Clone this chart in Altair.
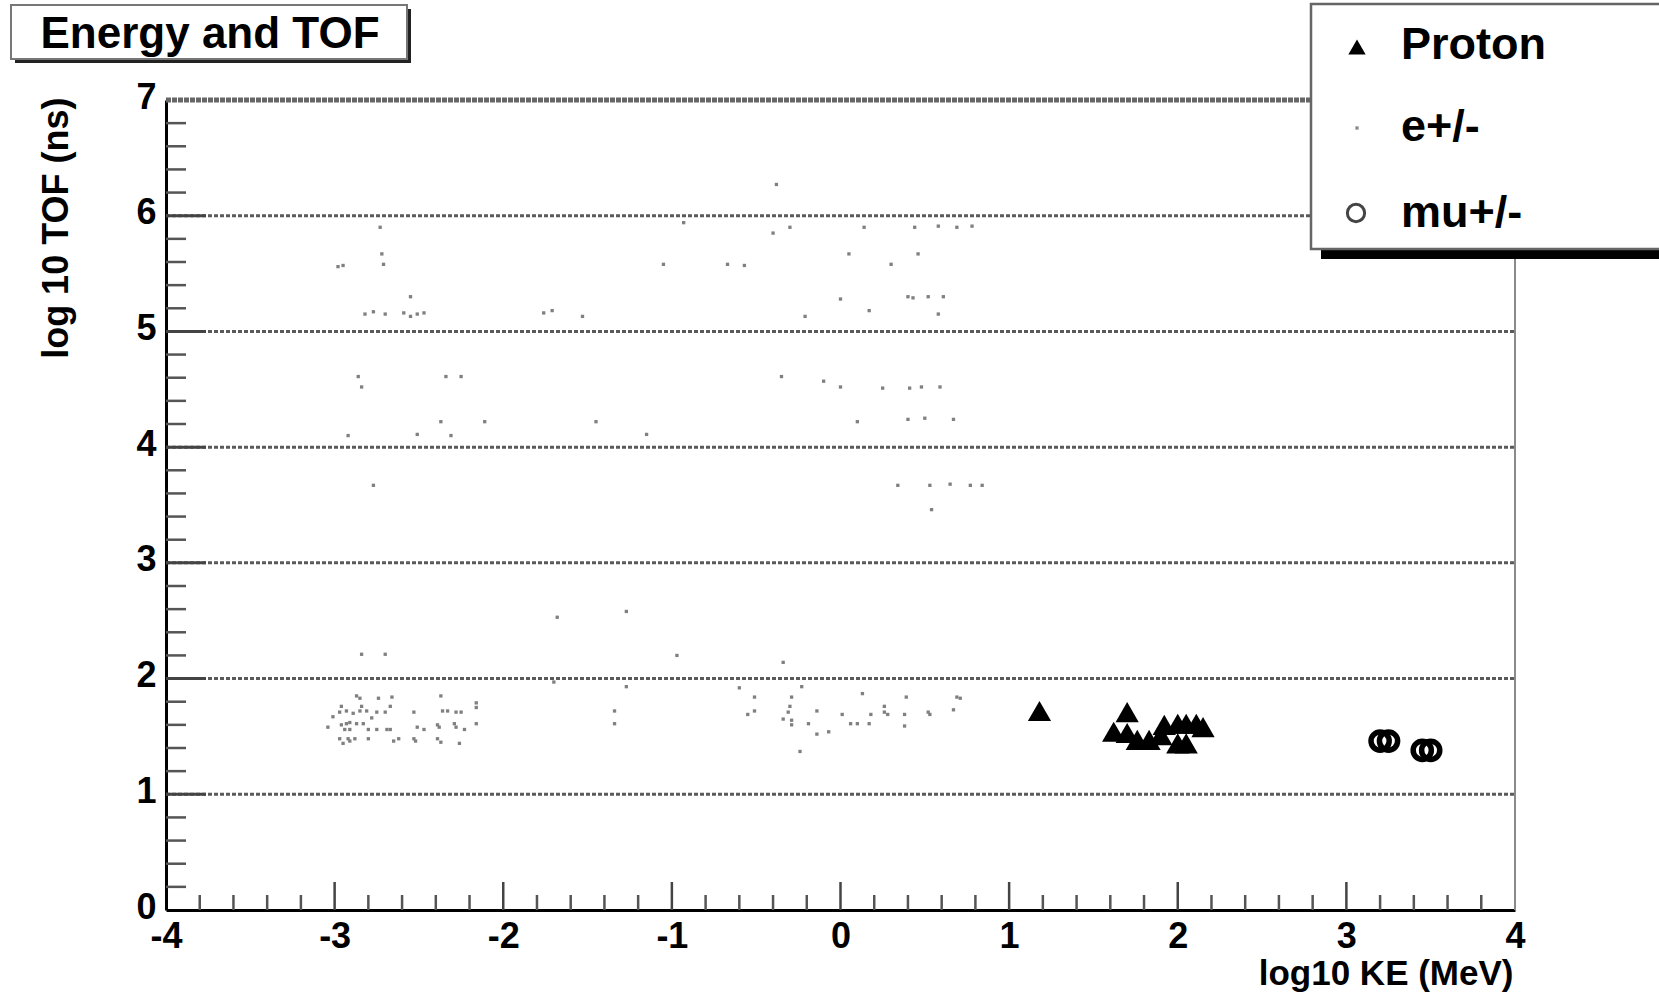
import altair as alt
import pandas as pd

FONT = "Liberation Sans"
W, H = 1349, 810

# e+/- hits: log10 kinetic energy (MeV), log10 time of flight (ns)
e_ke = [
    -2.87, -2.85, -2.74, -2.66, -2.37, -2.16, -2.16, -2.96, -2.67, -2.84,
    -2.97, -2.93, -2.89, -2.85, -2.81, -2.75, -2.70, -2.53, -2.36, -2.33,
    -2.28, -2.25, -3.01, -2.78, -3.04, -2.96, -2.93, -2.91, -2.87, -2.83,
    -2.94, -2.91, -2.80, -2.75, -2.69, -2.67, -2.51, -2.47, -2.39, -2.38,
    -2.29, -2.28, -2.23, -2.16, -2.97, -2.92, -2.91, -2.88, -2.80, -2.65,
    -2.62, -2.53, -2.52, -2.39, -2.37, -2.26, -2.95, -2.84, -2.70,
    -1.34, -1.34, -1.27, -1.68, -1.27, -0.97, -1.70,
    -0.34, -0.60, -0.23, -0.51, -0.29, -0.51, -0.55, -0.30, -0.31, -0.14,
    -0.34, -0.29, -0.29, -0.19, -0.14, -0.07, -0.24, 0.13, 0.39, 0.69,
    0.71, 0.26, 0.26, 0.52, 0.67, 0.01, 0.18, 0.28, 0.38, 0.53,
    0.06, 0.10, 0.17, 0.38,
    -2.73, -2.72, -2.98, -2.95, -2.71, -1.05, -2.55, -2.82, -2.77, -2.70,
    -2.59, -2.55, -2.51, -2.47, -1.76, -1.71, -1.53, -2.86, -2.84, -2.34,
    -2.25, -2.37, -2.11, -1.45, -2.92, -2.51, -2.31, -1.15, -2.77,
    -0.38, -0.93, -0.30, 0.14, 0.44, 0.58, 0.69, 0.78, -0.40, 0.05,
    0.46, -0.67, -0.57, 0.30, 0.00, 0.40, 0.43, 0.52, 0.61, -0.21,
    0.17, 0.58, -0.35, -0.10, 0.00, 0.25, 0.41, 0.48, 0.59, 0.10,
    0.40, 0.50, 0.67, 0.34, 0.53, 0.65, 0.77, 0.84, 0.54,
]
e_tof = [
    1.85, 1.83, 1.83, 1.84, 1.85, 1.79, 1.75, 1.76, 1.76, 1.76,
    1.71, 1.72, 1.70, 1.72, 1.72, 1.71, 1.71, 1.71, 1.72, 1.72,
    1.71, 1.71, 1.67, 1.66, 1.58, 1.60, 1.61, 1.62, 1.61, 1.61,
    1.56, 1.56, 1.56, 1.56, 1.56, 1.56, 1.58, 1.56, 1.60, 1.58,
    1.61, 1.58, 1.56, 1.61, 1.48, 1.48, 1.46, 1.48, 1.48, 1.46,
    1.48, 1.48, 1.46, 1.48, 1.45, 1.44, 1.44, 2.21, 2.21,
    1.72, 1.61, 1.93, 2.53, 2.58, 2.20, 1.97,
    2.14, 1.92, 1.93, 1.84, 1.84, 1.72, 1.69, 1.76, 1.71, 1.72,
    1.65, 1.64, 1.60, 1.61, 1.52, 1.54, 1.37, 1.87, 1.84, 1.84,
    1.83, 1.76, 1.71, 1.71, 1.73, 1.69, 1.69, 1.69, 1.69, 1.69,
    1.61, 1.61, 1.61, 1.59,
    5.90, 5.67, 5.56, 5.57, 5.58, 5.58, 5.30, 5.15, 5.17, 5.15,
    5.16, 5.13, 5.15, 5.16, 5.16, 5.18, 5.13, 4.61, 4.52, 4.61,
    4.61, 4.22, 4.22, 4.22, 4.10, 4.11, 4.10, 4.11, 3.67,
    6.27, 5.94, 5.90, 5.90, 5.90, 5.91, 5.90, 5.91, 5.85, 5.67,
    5.67, 5.58, 5.57, 5.58, 5.28, 5.30, 5.29, 5.30, 5.30, 5.13,
    5.18, 5.15, 4.61, 4.57, 4.52, 4.51, 4.51, 4.52, 4.52, 4.22,
    4.24, 4.25, 4.24, 3.67, 3.67, 3.68, 3.67, 3.67, 3.46,
]

# protons
p_ke = [1.18, 1.70, 1.62, 1.70, 1.76, 1.83, 1.90, 1.92, 2.00, 2.05, 2.11, 2.15, 2.00, 2.05]
p_tof = [1.72, 1.71, 1.54, 1.53, 1.47, 1.47, 1.51, 1.60, 1.61, 1.61, 1.61, 1.58, 1.44, 1.44]

# mu+/-
mu_ke = [3.20, 3.25, 3.45, 3.50]
mu_tof = [1.46, 1.46, 1.38, 1.38]

# axis ticks
x_major = [-4, -3, -2, -1, 0, 1, 2, 3, 4]
y_major = [0, 1, 2, 3, 4, 5, 6, 7]
x_minor = [round(a + 0.2 * k, 1) for a in range(-4, 4) for k in (1, 2, 3, 4)]
y_minor = [round(a + 0.2 * k, 1) for a in range(0, 7) for k in (1, 2, 3, 4)]
grid_levels = [1, 2, 3, 4, 5, 6]

xs = alt.Scale(domain=[-4, 4], nice=False, zero=False)
ys = alt.Scale(domain=[0, 7], nice=False, zero=False)

x_axis = alt.Axis(
    values=x_major, labelExpr="'' + datum.value", ticks=False, tickSize=0, grid=False,
    domain=True, domainColor="black", domainWidth=3,
    labelFont=FONT, labelFontSize=36, labelFontWeight="bold", labelColor="black",
    labelPadding=9, labelFlush=False, labelOverlap=False, labelBound=False,
    title="log10 KE (MeV)", titleFont=FONT, titleFontSize=35, titleFontWeight="bold",
    titleColor="black", titleAlign="right", titleBaseline="alphabetic",
    titleX=W - 2, titleY=74,
)
y_axis = alt.Axis(
    values=y_major, ticks=False, tickSize=0, grid=False,
    domain=True, domainColor="black", domainWidth=3,
    labelFont=FONT, labelFontSize=36, labelFontWeight="bold", labelColor="black",
    labelPadding=10, labelOffset=-3, labelFlush=False, labelOverlap=False, labelBound=False,
    title="log 10 TOF (ns)", titleFont=FONT, titleFontSize=36, titleFontWeight="bold",
    titleColor="black", titleAngle=270, titleAlign="right", titleBaseline="alphabetic",
    titleX=-99, titleY=-3,
)


def X(field):
    return alt.X(field, type="quantitative", scale=xs, axis=x_axis)


def Y(field):
    return alt.Y(field, type="quantitative", scale=ys, axis=y_axis)


def vals(v):
    return pd.DataFrame({"v": v})


# dashed horizontal grid and the frame
grid = alt.Chart(vals(grid_levels)).mark_rule(
    color="#5a5a5a", strokeWidth=3, strokeDash=[4, 2]
).encode(y=Y("v"), x=alt.value(0), x2=alt.value(W))
top = alt.Chart(vals([7])).mark_rule(
    color="#666", strokeWidth=5, strokeDash=[5, 1]
).encode(y=Y("v"), x=alt.value(0), x2=alt.value(W))
right = alt.Chart(vals([4])).mark_rule(color="#8a8a8a", strokeWidth=2).encode(
    x=X("v"), y=alt.value(0), y2=alt.value(H)
)

# inward ticks
y_minor_t = alt.Chart(vals(y_minor)).mark_rule(color="#555", strokeWidth=2.5).encode(
    y=Y("v"), x=alt.value(0), x2=alt.value(20)
)
y_major_t = alt.Chart(vals(grid_levels)).mark_rule(color="#444", strokeWidth=3).encode(
    y=Y("v"), x=alt.value(0), x2=alt.value(40)
)
x_minor_t = alt.Chart(vals(x_minor)).mark_rule(color="#555", strokeWidth=2.5).encode(
    x=X("v"), y=alt.value(H), y2=alt.value(H - 15)
)
x_major_t = alt.Chart(vals(x_major[1:-1])).mark_rule(color="#444", strokeWidth=2.5).encode(
    x=X("v"), y=alt.value(H), y2=alt.value(H - 28)
)

# particles
electrons = alt.Chart(pd.DataFrame({"ke": e_ke, "tof": e_tof})).mark_square(
    size=11, color="#808080", opacity=1
).encode(x=X("ke"), y=Y("tof"))
protons = alt.Chart(pd.DataFrame({"ke": p_ke, "tof": p_tof})).mark_point(
    shape="triangle-up", filled=True, color="black", size=540, opacity=1
).encode(x=X("ke"), y=Y("tof"))
muons = alt.Chart(pd.DataFrame({"ke": mu_ke, "tof": mu_tof})).mark_point(
    shape="circle", filled=False, color="black", size=330, strokeWidth=5.5, opacity=1
).encode(x=X("ke"), y=Y("tof"))

one = pd.DataFrame({"k": [0]})

# title pave
title_shadow = alt.Chart(one).mark_rect(color="#222").encode(
    x=alt.value(-151), x2=alt.value(245), y=alt.value(-91), y2=alt.value(-37)
)
title_box = alt.Chart(one).mark_rect(fill="white", stroke="#777", strokeWidth=2).encode(
    x=alt.value(-155), x2=alt.value(241), y=alt.value(-95), y2=alt.value(-41)
)
title_text = alt.Chart(one).mark_text(
    text="Energy and TOF", font=FONT, fontSize=44, fontWeight="bold", color="black",
    align="center", baseline="alphabetic",
).encode(x=alt.value(44), y=alt.value(-52))

# legend pave
leg_shadow = alt.Chart(one).mark_rect(color="black").encode(
    x=alt.value(1155), x2=alt.value(1620), y=alt.value(-86), y2=alt.value(159)
)
leg_box = alt.Chart(one).mark_rect(fill="white", stroke="#666", strokeWidth=2.5).encode(
    x=alt.value(1145), x2=alt.value(1610), y=alt.value(-96), y2=alt.value(149)
)
leg_p = alt.Chart(one).mark_point(
    shape="triangle-up", filled=True, color="black", size=300, opacity=1
).encode(x=alt.value(1191), y=alt.value(-53))
leg_e = alt.Chart(one).mark_square(size=11, color="#8c8c8c", opacity=1).encode(
    x=alt.value(1191), y=alt.value(28)
)
leg_mu = alt.Chart(one).mark_point(
    shape="circle", filled=False, color="#444", size=300, strokeWidth=3, opacity=1
).encode(x=alt.value(1190), y=alt.value(113))


def leg_text(label, y):
    return alt.Chart(one).mark_text(
        text=label, font=FONT, fontSize=45, fontWeight="bold", color="black",
        align="left", baseline="alphabetic",
    ).encode(x=alt.value(1235), y=alt.value(y))


chart = alt.layer(
    grid, top, right, y_minor_t, y_major_t, x_minor_t, x_major_t,
    electrons, protons, muons,
    title_shadow, title_box, title_text,
    leg_shadow, leg_box, leg_p, leg_e, leg_mu,
    leg_text("Proton", -41), leg_text("e+/-", 41), leg_text("mu+/-", 127),
).properties(
    width=W, height=H,
    padding={"left": 166, "top": 100, "right": 144, "bottom": 87},
    autosize=alt.AutoSizeParams(type="none"),
    background="white",
).configure_view(strokeWidth=0)

chart.save("out.html", embed_options={"renderer": "svg", "actions": False})
